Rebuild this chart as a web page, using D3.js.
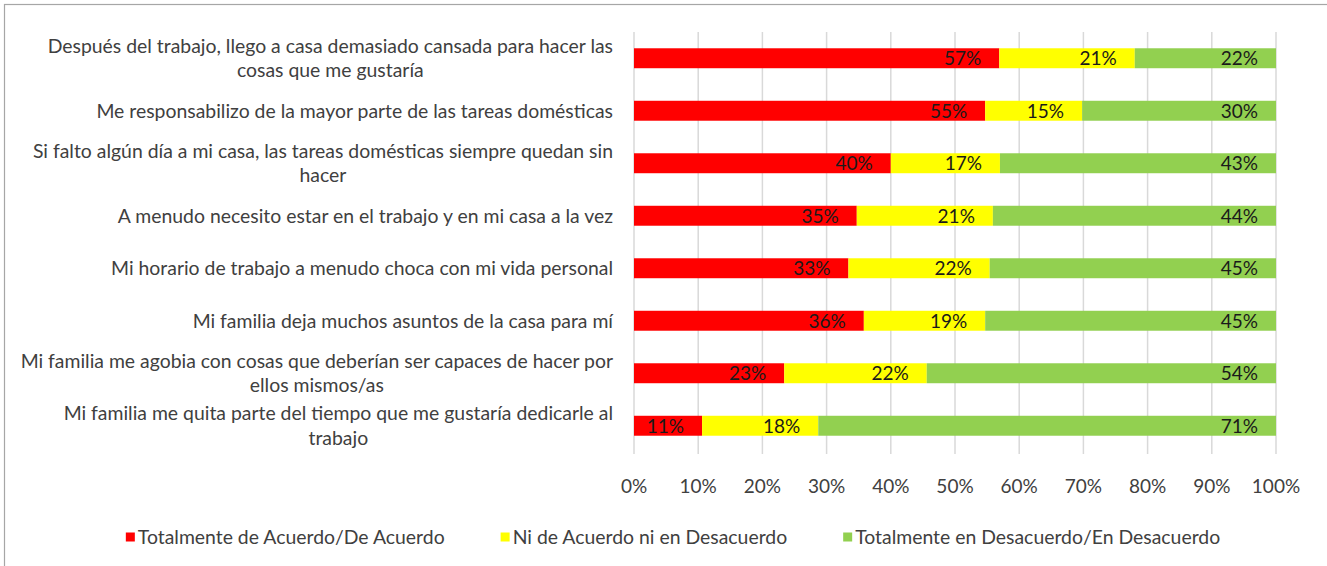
<!DOCTYPE html>
<html>
<head>
<meta charset="utf-8">
<script src="https://cdn.jsdelivr.net/npm/d3@7"></script>
<style>
  html, body { margin: 0; padding: 0; background: #fff; }
  svg { display: block; }
  text { font-family: Lato, "Open Sans", sans-serif; }
</style>
</head>
<body>
<svg id="chart" width="1327" height="566"></svg>
<script>
// ---- data ----
const categories = [
  "Después del trabajo, llego a casa demasiado cansada para hacer las\ncosas que me gustaría",
  "Me responsabilizo de la mayor parte de las tareas domésticas",
  "Si falto algún día a mi casa, las tareas domésticas siempre quedan sin\nhacer",
  "A menudo necesito estar en el trabajo y en mi casa a la vez",
  "Mi horario de trabajo a menudo choca con mi vida personal",
  "Mi familia deja muchos asuntos de la casa para mí",
  "Mi familia me agobia con cosas que deberían ser capaces de hacer por\nellos mismos/as",
  "Mi familia me quita parte del tiempo que me gustaría dedicarle al\ntrabajo"
];
const seriesNames = [
  "Totalmente de Acuerdo/De Acuerdo",
  "Ni de Acuerdo ni en Desacuerdo",
  "Totalmente en Desacuerdo/En Desacuerdo"
];
const acuerdo    = [56.9, 54.7, 40.0, 34.7, 33.4, 35.8, 23.4, 10.6];
const neutral    = [21.1, 15.1, 17.0, 21.2, 22.0, 18.9, 22.2, 18.1];
const desacuerdo = [22.0, 30.2, 43.0, 44.1, 44.6, 45.3, 54.4, 71.3];
const tickValues = [0, 10, 20, 30, 40, 50, 60, 70, 80, 90, 100];
const colors = ["#FF0000", "#FFFF00", "#92D050"];

// ---- layout ----
const svg = d3.select("#chart");
const W = 1327, H = 566;
const plot = { left: 634, right: 1276, top: 32, bottom: 452 };
const textColor = "#404040";
const fontSize = 19;
const catFontSize = 19.4;

// chart border (top/left visible)
svg.append("rect")
  .attr("x", 4.5).attr("y", 4.5)
  .attr("width", W + 20).attr("height", H + 20)
  .attr("fill", "none").attr("stroke", "#a6a6a6").attr("stroke-width", 1.2);

const x = d3.scaleLinear().domain([0, 100]).range([plot.left, plot.right]);
const y = d3.scaleBand().domain(d3.range(categories.length))
  .range([plot.top, plot.bottom]).paddingInner(0.62).paddingOuter(0.31);

// gridlines
svg.append("g").selectAll("line").data(tickValues).join("line")
  .attr("x1", d => x(d)).attr("x2", d => x(d))
  .attr("y1", plot.top).attr("y2", plot.bottom + 2)
  .attr("stroke", "#d9d9d9").attr("stroke-width", 1.5);

// stacked data
const rows = categories.map((c, i) => [acuerdo[i], neutral[i], desacuerdo[i]]);
const stack = d3.stack().keys([0, 1, 2])(rows);

const fmt = v => Math.round(v) + "%";

const layers = svg.append("g").selectAll("g").data(stack).join("g")
  .attr("fill", (d, k) => colors[k]);

layers.selectAll("rect").data(d => d.map((s, i) => ({ s, i }))).join("rect")
  .attr("x", d => x(d.s[0]))
  .attr("y", d => y(d.i))
  .attr("width", d => x(d.s[1]) - x(d.s[0]))
  .attr("height", y.bandwidth());

// data labels (inside end)
const labelG = svg.append("g");
stack.forEach((layer, k) => {
  layer.forEach((s, i) => {
    labelG.append("text")
      .attr("x", x(s[1]) - 18)
      .attr("y", y(i) + y.bandwidth() / 2)
      .attr("dy", "0.36em")
      .attr("text-anchor", "end")
      .attr("font-size", fontSize)
      .attr("fill", "#1a1a1a")
      .text(fmt(s[1] - s[0]));
  });
});

// category labels (right aligned block, lines centered within the block)
const catG = svg.append("g");
const labelRight = 613;
const lineH = 24.5;
categories.forEach((c, i) => {
  const lines = c.split("\n");
  const g = catG.append("g");
  const texts = lines.map(l => g.append("text")
    .attr("font-size", catFontSize).attr("fill", textColor)
    .attr("text-anchor", "middle").text(l));
  const maxW = d3.max(texts, t => t.node().getComputedTextLength());
  const cy = y(i) + y.bandwidth() / 2;
  texts.forEach((t, j) => {
    t.attr("x", labelRight - maxW / 2)
     .attr("y", cy + (j - (lines.length - 1) / 2) * lineH)
     .attr("dy", "0.36em");
  });
});

// x axis tick labels
svg.append("g").selectAll("text").data(tickValues).join("text")
  .attr("x", d => x(d))
  .attr("y", 486)
  .attr("dy", "0.36em")
  .attr("text-anchor", "middle")
  .attr("font-size", fontSize)
  .attr("fill", textColor)
  .text(d => d + "%");

// legend
const legend = svg.append("g");
const items = seriesNames.map((n, k) => {
  const g = legend.append("g");
  g.append("rect").attr("width", 9).attr("height", 9).attr("y", -4.5).attr("fill", colors[k]);
  const t = g.append("text").attr("x", 12).attr("dy", "0.36em")
    .attr("font-size", catFontSize).attr("fill", textColor).text(n);
  return { g, w: 12 + t.node().getComputedTextLength() };
});
const gap = 56;
const totalW = d3.sum(items, d => d.w) + gap * (items.length - 1);
let lx = 673 - totalW / 2;
items.forEach(it => {
  it.g.attr("transform", `translate(${lx},537)`);
  lx += it.w + gap;
});
</script>
</body>
</html>
